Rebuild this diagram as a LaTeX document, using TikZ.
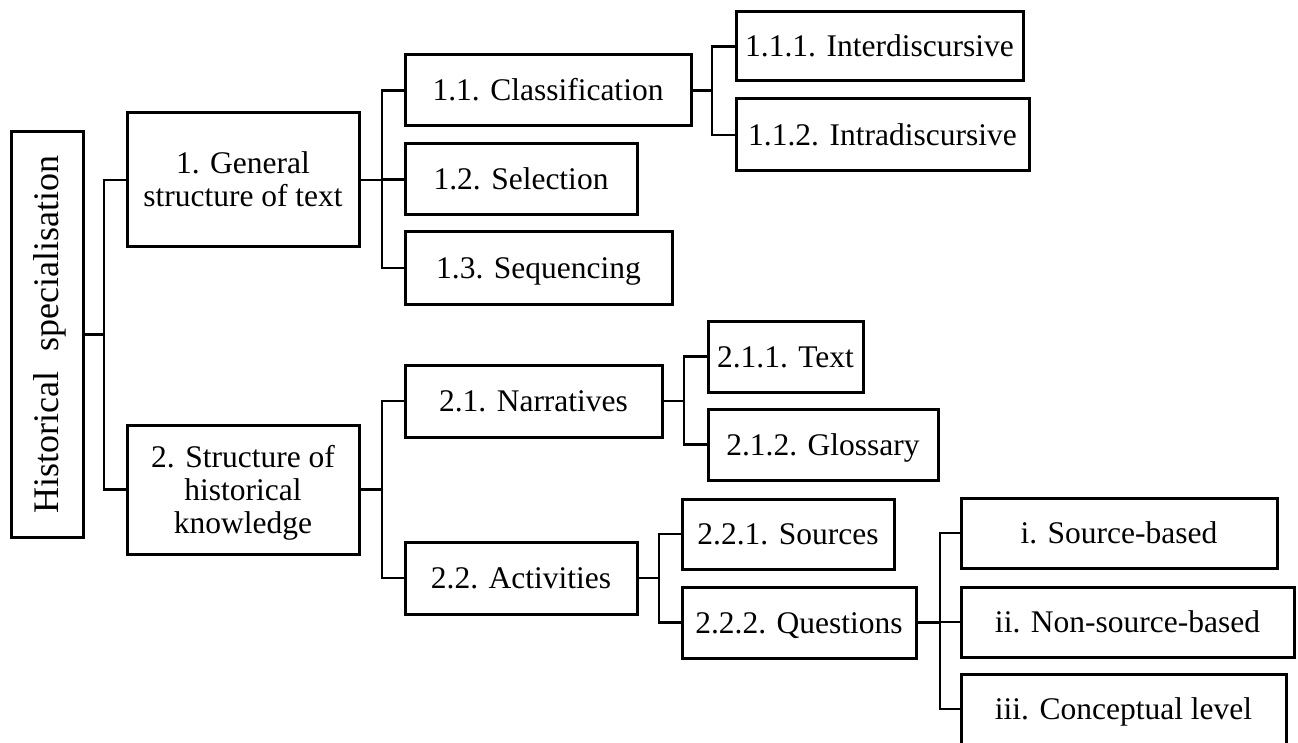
\documentclass[tikz,border=0pt]{standalone}
\usepackage{fontspec}
\setmainfont{Liberation Serif}
\begin{document}
\begin{tikzpicture}[x=1pt,y=-1pt,
  box/.style={draw=black, line width=3pt, rectangle, inner sep=0pt,
    font=\fontsize{31.5}{33}\selectfont, text height=21pt, text depth=0pt, align=center},
  conn/.style={draw=black, line width=2.6pt, line join=miter}]
\useasboundingbox (0,0) rectangle (1298,743);
\clip (0,0) rectangle (1298,743);
% root
\node[box, minimum width=72pt, minimum height=405pt] (root) at (47,334.5) {};
\node[rotate=90, inner sep=0pt, font=\fontsize{36}{40}\selectfont, text height=23.8pt, text depth=0pt] (rootlabel) at (root.center) {Historical\hspace{0.3em} specialisation};
% level 1
\node[box, text height=54pt, minimum width=232pt, minimum height=134pt] (b1) at (243,180) {1. General\\structure of text};
\node[box, text height=87pt, minimum width=232pt, minimum height=129pt] (b2) at (243,489.5) {2. Structure of\\historical\\knowledge};
% level 2
\node[box, minimum width=286pt, minimum height=71pt] (c11) at (548,90.5) {1.1. Classification};
\node[box, minimum width=232pt, minimum height=71pt] (c12) at (521,179.5) {1.2. Selection};
\node[box, minimum width=267pt, minimum height=72pt] (c13) at (538.5,268) {1.3. Sequencing};
\node[box, minimum width=257pt, minimum height=72pt] (c21) at (533.5,401) {2.1. Narratives};
\node[box, minimum width=232pt, minimum height=72pt] (c22) at (521,578) {2.2. Activities};
% level 3
\node[box, minimum width=287pt, minimum height=69pt] (d111) at (879.5,46.5) {1.1.1. Interdiscursive};
\node[box, minimum width=293pt, minimum height=72pt] (d112) at (882.5,135) {1.1.2. Intradiscursive};
\node[box, minimum width=155pt, minimum height=71pt] (d211) at (785.5,356.5) {2.1.1. Text};
\node[box, minimum width=230pt, minimum height=71pt] (d212) at (823,444.5) {2.1.2. Glossary};
\node[box, minimum width=212pt, minimum height=70pt] (d221) at (788,534) {2.2.1. Sources};
\node[box, minimum width=234pt, minimum height=71pt] (d222) at (799,622.5) {2.2.2. Questions};
% level 4
\node[box, minimum width=316pt, minimum height=70pt] (e1) at (1119,533) {i. Source-based};
\node[box, minimum width=333pt, minimum height=70pt] (e2) at (1127.5,622) {ii. Non-source-based};
\node[box, minimum width=325pt, minimum height=70pt] (e3) at (1123.5,709) {iii. Conceptual level};
% junctions
\coordinate (j0) at (104,334.5);
\coordinate (j1) at (382,180);
\coordinate (j2) at (382,489.5);
\coordinate (j11) at (712,90.5);
\coordinate (j21) at (684,401);
\coordinate (j22) at (659,578);
\coordinate (j222) at (940,622.5);
% connectors
\draw[conn] (root.east |- j0) -- (j0);
\draw[conn] (b1.west) -| (j0);
\draw[conn] (b2.west) -| (j0);
\draw[conn] (b1.east) -- (j1);
\draw[conn] (c11.west) -| (j1);
\draw[conn] (c12.west) -- (c12.west -| j1);
\draw[conn] (c13.west) -| (j1);
\draw[conn] (b2.east) -- (j2);
\draw[conn] (c21.west) -| (j2);
\draw[conn] (c22.west) -| (j2);
\draw[conn] (c11.east) -- (j11);
\draw[conn] (d111.west) -| (j11);
\draw[conn] (d112.west) -| (j11);
\draw[conn] (c21.east) -- (j21);
\draw[conn] (d211.west) -| (j21);
\draw[conn] (d212.west) -| (j21);
\draw[conn] (c22.east) -- (j22);
\draw[conn] (d221.west) -| (j22);
\draw[conn] (d222.west) -| (j22);
\draw[conn] (d222.east) -- (j222);
\draw[conn] (e1.west) -| (j222);
\draw[conn] (e2.west) -- (e2.west -| j222);
\draw[conn] (e3.west) -| (j222);
\end{tikzpicture}
\end{document}
